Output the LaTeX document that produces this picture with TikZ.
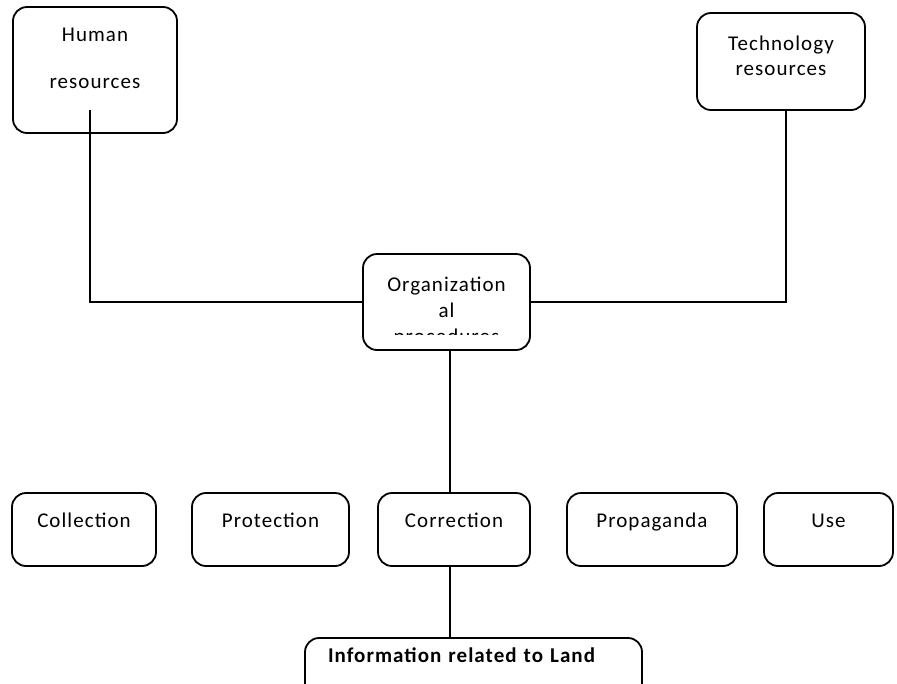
\documentclass[tikz,border=0pt]{standalone}
\usepackage{fontspec}
\setmainfont{Carlito}[LetterSpace=5]
\usetikzlibrary{positioning}

\begin{document}
\begin{tikzpicture}[
		x=1pt, y=-1pt,
		blk/.style={draw, rounded corners=14pt, line width=1.8pt, inner sep=0pt, outer sep=0pt,
			align=center, font=\fontsize{21}{25}\selectfont},
		row/.style={blk, text height=34pt, text depth=39pt},
		link/.style={line width=1.6pt}
		]
		\useasboundingbox (0,0) rectangle (897,683);
		
		% ==========================================
		% RESOURCES (top)
		% ==========================================
		\node[blk, anchor=north west, minimum width=164pt, text height=81pt, text depth=45pt]
		(human) at (13,7) {Human\\[22pt]resources};
		
		\node[blk, anchor=north west, minimum width=168pt, text height=62pt, text depth=35pt]
		(tech) at (697,13) {Technology\\resources};
		
		% ==========================================
		% ORGANIZATIONAL PROCEDURES
		% ==========================================
		\node[blk, anchor=north west, minimum width=167pt, text height=63pt, text depth=33pt]
		(org) at (363,254) {Organization\\[1pt]al};
		
		% third line is cut off by the box
		\begin{scope}
			\clip (363,300) rectangle (530,334.5);
			\node[anchor=base, inner sep=0pt, font=\fontsize{21}{25}\selectfont]
			(orgtail) at ([yshift=-89pt]org.north) {procedures};
		\end{scope}
		
		% ==========================================
		% ACTIVITIES (row)
		% ==========================================
		\node[row, anchor=north west, minimum width=144pt] (coll) at (12,493) {Collection};
		\node[row, minimum width=157pt, right=36pt of coll] (prot) {Protection};
		\node[row, minimum width=152pt, right=29pt of prot] (corr) {Correction};
		\node[row, minimum width=170pt, right=37pt of corr] (prop) {Propaganda};
		\node[row, minimum width=129pt, right=27pt of prop] (use) {Use};
		
		% ==========================================
		% LAND INFORMATION
		% ==========================================
		\node[blk, anchor=north west, align=left, inner xsep=23pt, text width=291pt,
		text height=24pt, text depth=50pt, font=\fontsize{21}{25}\selectfont\bfseries]
		(info) at (305,638) {Information related to Land};
		
		% ==========================================
		% CONNECTORS
		% ==========================================
		\coordinate (hrfoot) at (90,110);
		\draw[link] (hrfoot) |- (org.west);
		\draw[link] ([xshift=5pt]tech.south) |- (org.east);
		\draw[link] ([xshift=-4pt]corr.north |- org.south) -- ([xshift=-4pt]corr.north);
		\draw[link] ([xshift=-4pt]corr.south) -- ([xshift=-4pt]corr.south |- info.north);
		
	\end{tikzpicture}
\end{document}
